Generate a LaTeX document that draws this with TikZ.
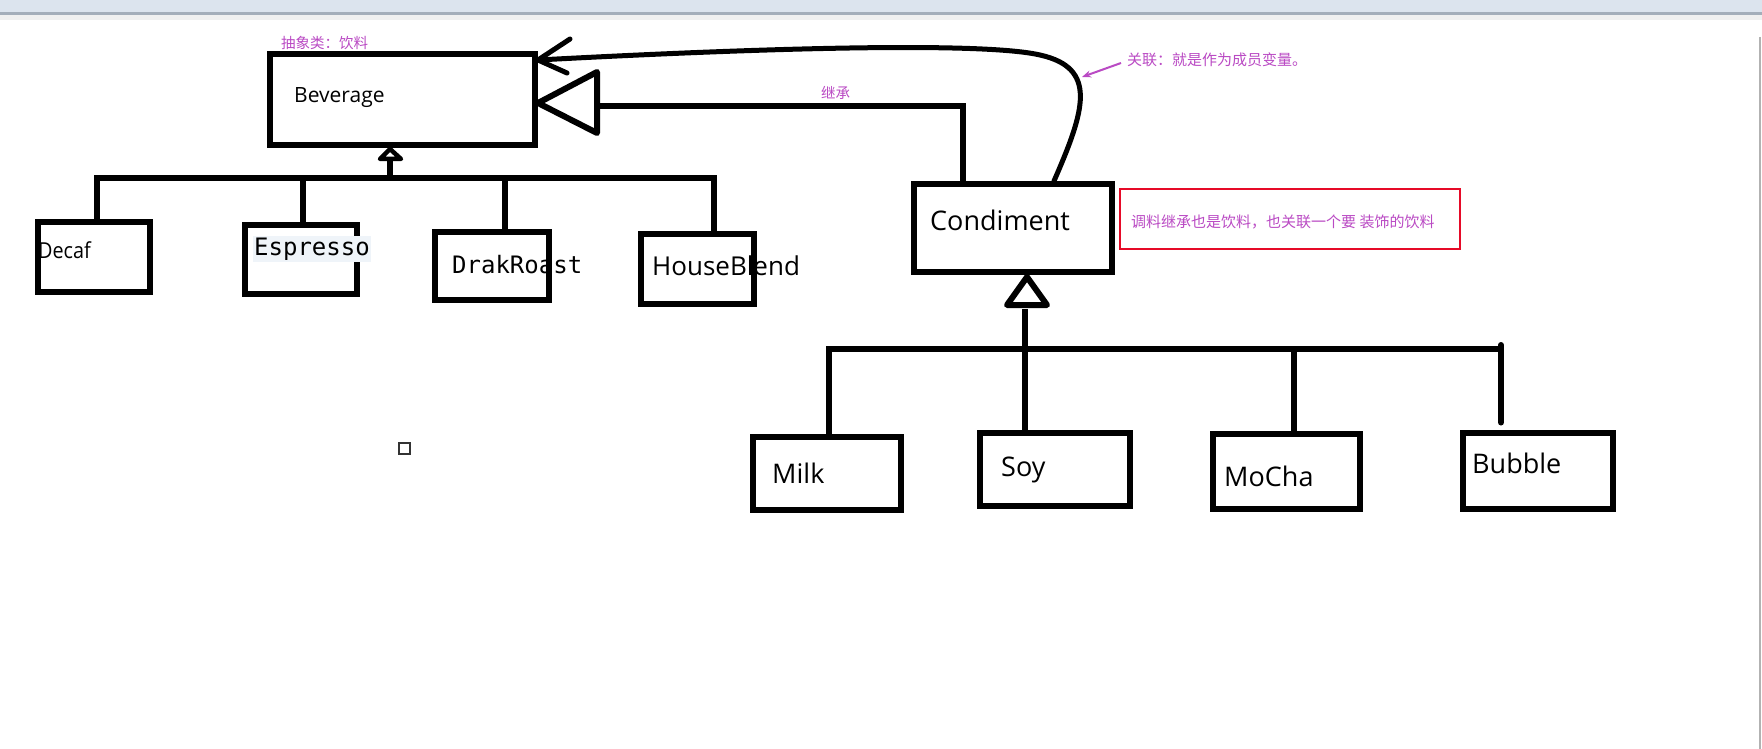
\documentclass[tikz,border=0pt]{standalone}
\usepackage{fontspec}
\usetikzlibrary{arrows.meta}
\setmainfont{Open Sans}
\newfontfamily\cjk{Noto Sans CJK SC}
\newfontfamily\monof{DejaVu Sans Mono}
\newfontfamily\narrowf[FakeStretch=0.9]{Open Sans}
\definecolor{notepurple}{RGB}{186,74,196}
\definecolor{notered}{RGB}{230,10,40}
\definecolor{barblue}{HTML}{DCE4EE}
\definecolor{barline}{HTML}{A4AEBA}
\definecolor{espbg}{HTML}{EFF4F9}
\tikzset{
  umlbox/.style={draw=black, line width=6pt, fill=white, inner sep=0pt, rectangle},
  conn/.style={draw=black, line width=6pt, line cap=rect},
  hollowtri/.style={draw=black, line width=6pt, line join=round, fill=white},
  boxtext/.style={anchor=base west, inner sep=0pt, text=black},
  note/.style={anchor=west, inner sep=0pt, text=notepurple, font=\cjk\fontsize{14.5pt}{17pt}\selectfont},
}
\begin{document}
\begin{tikzpicture}[x=1pt, y=-1pt]
\useasboundingbox (0,0) rectangle (1762,749);
\fill[white] (0,0) rectangle (1762,749);
% window toolbar strip
\fill[barblue] (0,0) rectangle (1762,12.5);
\fill[barline] (0,12.5) rectangle (1762,15);
\fill[black!6] (0,15) rectangle (1762,20);
\draw[gray!60, line width=1.5pt] (1760,37) -- (1760,749);

% boxes
\node[umlbox, minimum width=265pt, minimum height=91pt] (beverage) at (402.5,100) {};
\node[umlbox, minimum width=112pt, minimum height=70pt] (decaf) at (94,257) {};
\node[umlbox, minimum width=112pt, minimum height=69pt] (espresso) at (300.5,259) {};
\node[umlbox, minimum width=114pt, minimum height=68pt] (drakroast) at (491.5,265.5) {};
\node[umlbox, minimum width=113pt, minimum height=70pt] (houseblend) at (697,268.5) {};
\node[umlbox, minimum width=198pt, minimum height=88pt] (condiment) at (1013,228) {};
\node[umlbox, minimum width=148pt, minimum height=73pt] (milk) at (826.5,473) {};
\node[umlbox, minimum width=150pt, minimum height=73pt] (soy) at (1054.5,469) {};
\node[umlbox, minimum width=147pt, minimum height=75pt] (mocha) at (1286,471) {};
\node[umlbox, minimum width=150pt, minimum height=76pt] (bubble) at (1537.5,470.5) {};
\node[draw=notered, line width=2pt, minimum width=340pt, minimum height=60pt, inner sep=0pt] (notebox) at (1290,219) {};

% box texts
\node[boxtext, font=\fontsize{21pt}{25pt}\selectfont] (tbev) at (294,103) {Beverage};
\node[boxtext, font=\narrowf\fontsize{22pt}{26pt}\selectfont] (tdecaf) at (38,258) {Decaf};
\node[boxtext, font=\monof\fontsize{24pt}{28pt}\selectfont, fill=espbg, inner xsep=1pt, inner ysep=2pt] (tesp) at (253,255) {Espresso};
\node[boxtext, font=\monof\fontsize{24pt}{28pt}\selectfont] (tdrak) at (452,273) {DrakRoast};
\node[boxtext, font=\fontsize{26pt}{30pt}\selectfont] (thouse) at (652,275) {HouseBlend};
\node[boxtext, font=\fontsize{27pt}{31pt}\selectfont] (tcond) at (930,230) {Condiment};
\node[boxtext, font=\fontsize{27pt}{31pt}\selectfont] (tmilk) at (772,483) {Milk};
\node[boxtext, font=\fontsize{27pt}{31pt}\selectfont] (tsoy) at (1001,476) {Soy};
\node[boxtext, font=\fontsize{27pt}{31pt}\selectfont] (tmocha) at (1224,486) {MoCha};
\node[boxtext, font=\fontsize{27pt}{31pt}\selectfont] (tbubble) at (1472,473) {Bubble};

% annotations
\node[note] (labstract) at (281,43) {抽象类：饮料};
\node[note] (linherit) at (821,93) {继承};
\node[note, font=\cjk\fontsize{15pt}{18pt}\selectfont] (lassoc) at (1127,60) {关联：就是作为成员变量。};
\node[note, font=\cjk\fontsize{15pt}{18pt}\selectfont] (lnote) at (1131,222) {调料继承也是饮料，也关联一个要 装饰的饮料};

% top inheritance tree
\coordinate (barL) at (97,178);
\coordinate (barR) at (714,178);
\draw[conn] (barL) -- (barR);
\draw[conn] (barL) -- (barL |- decaf.north);
\draw[conn] ([xshift=2.5pt]espresso.north) -- ([xshift=2.5pt]espresso.north |- barL);
\draw[conn] ([xshift=13.5pt]drakroast.north) -- ([xshift=13.5pt]drakroast.north |- barL);
\draw[conn] ([xshift=17pt]houseblend.north) -- ([xshift=17pt]houseblend.north |- barL);
\coordinate (stemtop) at ([xshift=-12.5pt, yshift=-11pt]beverage.south);
\draw[conn] (stemtop) -- (stemtop |- barL);
\draw[black, line width=4.5pt, line join=round, fill=white]
  ([xshift=-12.5pt, yshift=-0.5pt]beverage.south) -- ++(-10,10) -- ++(21,0) -- cycle;

% Condiment inherits Beverage
\coordinate (inhTip) at (538,103);
\coordinate (inhBack) at (597,106);
\draw[conn, line cap=butt] ([xshift=-50pt]condiment.north) |- (inhBack);
\draw[hollowtri] (inhTip) -- (597,72) -- (597,133) -- cycle;

% association curve
\coordinate (assocTip) at (538,60);
\draw[black, line width=5pt, line cap=round]
  ([xshift=41pt]condiment.north) .. controls (1085,110) and (1098,68) .. (1040,55)
  .. controls (988,43) and (800,46) .. (assocTip);
\draw[black, line width=5pt, line cap=round, line join=round] (570,39) -- (assocTip) -- (567,73);
\draw[notepurple, line width=2pt, -{Stealth[length=9pt, width=7pt]}] ([xshift=-6pt, yshift=-3pt]lassoc.west) -- (1082,77);

% bottom inheritance tree
\coordinate (condTri) at ([xshift=14pt, yshift=-2pt]condiment.south);
\draw[black, line width=6pt, line join=round, fill=white] (condTri) -- (1047,305) -- (1007,305) -- cycle;
\coordinate (bbL) at (829,349);
\coordinate (bbR) at (1501,349);
\draw[conn] (bbL) -- (bbR);
\draw[conn] ([xshift=2.5pt]milk.north) -- ([xshift=2.5pt]milk.north |- bbL);
\draw[conn, line cap=butt] (1025,309) -- ([xshift=-29.5pt]soy.north);
\draw[conn] ([xshift=8pt]mocha.north) -- ([xshift=8pt]mocha.north |- bbL);
\draw[conn, line cap=round] ([xshift=-36.5pt, yshift=7pt]bubble.north) -- ([xshift=-36.5pt, yshift=4pt]bubble.north |- bbL);

% stray small square
\draw[black!80, line width=1.5pt] (399,443) rectangle (410,454);
\end{tikzpicture}
\end{document}
